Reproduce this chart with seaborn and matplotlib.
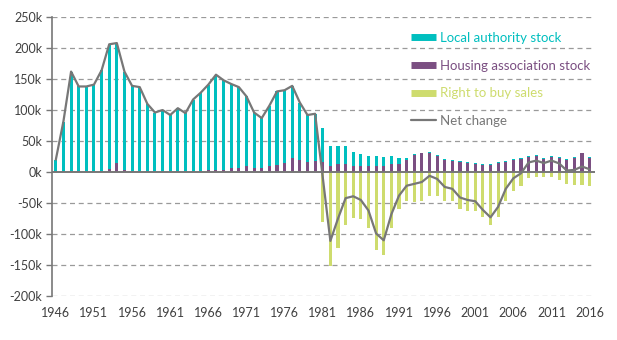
import numpy as np
import pandas as pd
import matplotlib
matplotlib.use("Agg")
import matplotlib.pyplot as plt
from matplotlib.lines import Line2D
import seaborn as sns

# Annual change in social housing stock, England (thousands of dwellings)
years = list(range(1946, 2017))

local_authority = [
    19.5, 80, 160.5, 136.5, 136.5, 139.5, 162.5, 200, 194, 158,
    137.5, 135.5, 108.5, 94.5, 99, 91, 102, 94, 114.5, 125.5,
    137, 151, 145, 136, 130, 113, 90, 80, 97, 118,
    118, 115.5, 91, 76.5, 76, 55.5, 32, 29, 29, 23,
    19.5, 16, 16, 14.7, 13, 10, 3, 1.5, 1, 1.6,
    0.8, 1.5, 1.5, 1.5, 1.6, 1.5, 1.4, 1.4, 1.6, 1.5,
    1.5, 1.5, 1.5, 1.5, 1.5, 1.5, 1.5, 1.5, 1.5, 1, 1.5,
]

housing_association = [
    0.5, 1.5, 1.5, 1.5, 1.5, 1.5, 1.5, 5, 14, 4,
    1.5, 1.5, 1.5, 1.5, 1, 1, 1, 1, 2.5, 2.5,
    4, 4, 4, 6, 7, 9, 6, 7, 9, 12,
    14, 23.5, 20, 15.5, 18, 15.5, 10, 13, 13, 10,
    10, 10, 10, 10, 13, 13, 20, 28, 30.5, 30,
    26, 20, 18.5, 16.5, 15, 13.5, 12, 12, 15, 16.5,
    20, 21.5, 24.5, 26.5, 21.5, 24.5, 23.5, 20, 23, 30, 23,
]

right_to_buy = [
    0, 0, 0, 0, 0, 0, 0, 0, 0, 0,
    0, 0, 0, 0, 0, 0, 0, 0, 0, 0,
    0, 0, 0, 0, 0, 0, 0, 0, 0, 0,
    0, 0, 0, 0, 0, -80, -151, -123, -86, -74,
    -76, -90, -126, -134, -90, -60, -46, -49, -47, -38,
    -38, -46, -46, -59, -62, -62, -73, -86, -72, -46,
    -31, -23, -10, -8.6, -8.6, -8.6, -12.5, -20, -21.6, -21.6, -23,
]

net_change = [
    20, 82, 162, 138, 138, 141, 164, 206, 208, 162,
    139, 137, 110, 96, 100, 92, 103, 95, 117, 128,
    141, 157, 148, 142, 137, 122, 96, 87, 107, 130,
    132, 139, 112, 92, 94, -8, -111, -75, -42, -39,
    -45, -62, -99, -110, -68, -38, -22, -19, -16, -6,
    -11, -24, -27, -41, -45, -47, -61, -73, -56, -27,
    -10, -2, 15.5, 18.5, 14.5, 18.5, 14, 2.5, 3.5, 9, 4.5,
]

ytick_values = list(range(-200, 251, 50))
ytick_labels = [f"{v}k" for v in ytick_values]
xtick_years = list(range(1946, 2017, 5))

series_names = ["Local authority stock", "Housing association stock",
                "Right to buy sales", "Net change"]

TEAL = "#00BFBF"
PURPLE = "#7B4F82"
GREEN = "#CEDC6E"
GREY = "#777777"
TEXT = "#404040"

df = pd.DataFrame({
    "year": years,
    "la": local_authority,
    "ha": housing_association,
    "rtb": right_to_buy,
    "net": net_change,
})
df["stock_total"] = df["la"] + df["ha"]

sns.set_theme(style="white")
plt.rcParams["font.family"] = ["Lato", "DejaVu Sans"]

fig = plt.figure(figsize=(6.17, 3.40), dpi=100)
ax = fig.add_axes([0.0843, 0.129, 0.88, 0.821])

# grid first so the bars sit on top of it
for v in ytick_values:
    if v != 0:
        ax.axhline(v, color="#9a9a9a", lw=0.9, ls=(0, (4, 3)), zorder=0)

bar_kw = dict(native_scale=True, width=0.4, saturation=1, linewidth=0, ax=ax)
# stacked stock bars: total in teal, housing association portion over the base
sns.barplot(data=df, x="year", y="stock_total", color=TEAL, zorder=2, **bar_kw)
sns.barplot(data=df, x="year", y="ha", color=PURPLE, zorder=3, **bar_kw)
sns.barplot(data=df, x="year", y="rtb", color=GREEN, zorder=2, **bar_kw)

ax.axhline(0, color=GREY, lw=1.4, zorder=4)

sns.lineplot(data=df, x="year", y="net", color=GREY, lw=1.6, zorder=5, ax=ax)

ax.set_xlim(1945.5, 2016.7)
ax.set_ylim(-200, 250)
ax.set_xticks(xtick_years)
ax.set_xticklabels([str(y) for y in xtick_years])
ax.set_yticks(ytick_values)
ax.set_yticklabels(ytick_labels)
ax.set_xlabel("")
ax.set_ylabel("")

for side in ["top", "right", "bottom"]:
    ax.spines[side].set_visible(False)
ax.spines["left"].set_color(GREY)
ax.spines["left"].set_linewidth(1.2)

ax.tick_params(axis="y", length=4, width=1, color=GREY, pad=3,
               labelsize=9, labelcolor=TEXT, left=True)
ax.tick_params(axis="x", length=0, pad=8, labelsize=9, labelcolor=TEXT)

handles = [
    Line2D([], [], color=TEAL, lw=5, solid_capstyle="butt"),
    Line2D([], [], color=PURPLE, lw=5, solid_capstyle="butt"),
    Line2D([], [], color=GREEN, lw=5, solid_capstyle="butt"),
    Line2D([], [], color=GREY, lw=1.6),
]
leg = ax.legend(handles, series_names, loc="upper left",
                bbox_to_anchor=(0.651, 0.965), frameon=False, fontsize=9.5,
                labelcolor=[TEAL, PURPLE, GREEN, GREY],
                handlelength=1.9, handletextpad=0.3, labelspacing=1.18,
                borderaxespad=0)

fig.savefig("out.png", dpi=100, facecolor="white")
